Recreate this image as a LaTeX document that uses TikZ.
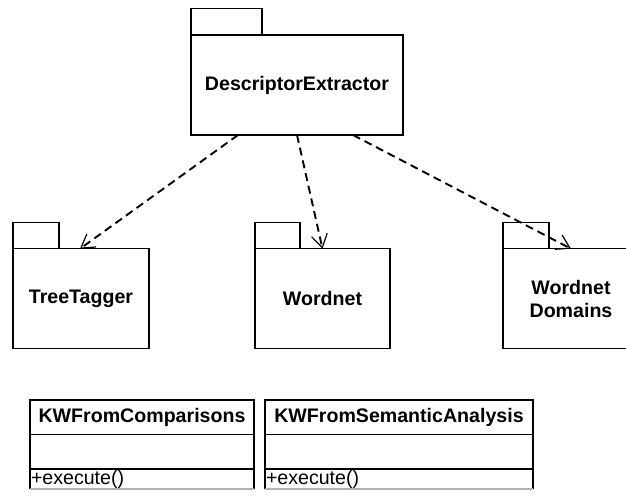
\documentclass[tikz,border=0pt]{standalone}
\usepackage{fontspec}
\setmainfont{Liberation Sans}
\usetikzlibrary{arrows.meta,calc,positioning}
\begin{document}
\begin{tikzpicture}[x=1pt,y=-1pt,
  every node/.style={inner sep=0pt,outer sep=0pt,font=\fontsize{19.6}{23}\selectfont\bfseries},
  pkgbody/.style={draw,line width=1.4pt,fill=white,align=center},
  pkgtab/.style={draw,line width=1.4pt,fill=white,anchor=south west,minimum height=26.5pt},
  dep/.style={line width=1.9pt,dash pattern=on 8pt off 5pt,-{Straight Barb[length=13pt,width=16pt,line width=1.2pt]}},
  clsrow/.style={draw,line width=1.4pt,anchor=north west,minimum height=#1},
  clsrow/.default=34.5pt,
  optext/.style={font=\fontsize{19.6}{23}\selectfont,anchor=west}
]
\useasboundingbox (0,0) rectangle (626,499);
\clip (0,0) rectangle (626,499);
\fill[white] (0,0) rectangle (626,499);

% packages
\node[pkgbody,minimum width=212pt,minimum height=100pt] (de) at (297,85) {DescriptorExtractor};
\node[pkgtab,minimum width=71pt] (detab) at (de.north west) {};

\node[pkgbody,minimum width=136pt,minimum height=99.5pt] (tt) at (81,298.5) {TreeTagger};
\node[pkgtab,minimum width=46pt] (tttab) at (tt.north west) {};

\node[pkgbody,minimum width=135pt,minimum height=99.5pt] (wn) at (322.5,298.5) {Wordnet};
\node[pkgtab,minimum width=45pt] (wntab) at (wn.north west) {};

\node[pkgbody,minimum width=136pt,minimum height=99.5pt] (wd) at (571,298.5) {Wordnet\\[0pt]Domains};
\node[pkgtab,minimum width=46pt] (wdtab) at (wd.north west) {};

% dependencies
\coordinate (s1) at ($(de.south)+(-59,0)$);
\coordinate (s2) at ($(de.south)+(0,0)$);
\coordinate (s3) at ($(de.south)+(56,0)$);
\draw[dep] (s1) -- ($(tt.north)+(-1,0)$);
\draw[dep] (s2) -- (wn.north);
\draw[dep] (s3) -- (wd.north);

% classes
\node[clsrow,minimum width=224pt] (c1name) at (30,400) {};
\node (c1label) at (c1name.center) {KWFromComparisons};
\node[clsrow,minimum width=224pt] (c1attr) at (c1name.south west) {};
\node[clsrow=20pt,minimum width=224pt,draw=none] (c1ops) at (c1attr.south west) {};
\draw[line width=1.4pt] (c1ops.south west) -- (c1ops.north west) -- (c1ops.north east) -- (c1ops.south east);
\draw[line width=1.4pt,gray!60] (c1ops.south west) -- (c1ops.south east);
\node[optext] (c1op) at ($(c1ops.west)+(1,0)$) {+execute()};

\node[clsrow,minimum width=268pt] (c2name) at (265,400) {};
\node (c2label) at (c2name.center) {KWFromSemanticAnalysis};
\node[clsrow,minimum width=268pt] (c2attr) at (c2name.south west) {};
\node[clsrow=20pt,minimum width=268pt,draw=none] (c2ops) at (c2attr.south west) {};
\draw[line width=1.4pt] (c2ops.south west) -- (c2ops.north west) -- (c2ops.north east) -- (c2ops.south east);
\draw[line width=1.4pt,gray!60] (c2ops.south west) -- (c2ops.south east);
\node[optext] (c2op) at ($(c2ops.west)+(1,0)$) {+execute()};
\end{tikzpicture}
\end{document}
